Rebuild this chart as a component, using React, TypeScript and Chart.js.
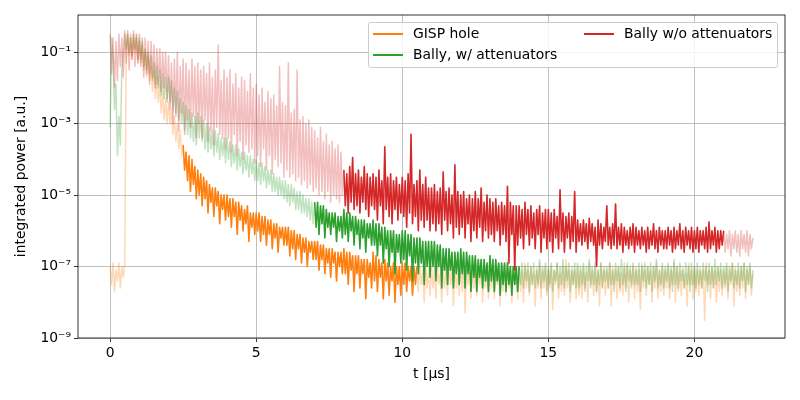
import React, { useEffect, useRef } from "react";
import Chart from "chart.js/auto";

// traces are sampled every 0.05 us from 0 to 22 us; values are log10 of the integrated power
const T_STEP = 0.05;

const gispHoleLog = [
  -7.0, -7.5, -6.9, -7.7, -7.1, -7.4, -6.9, -7.6, -7.0, -7.3, -6.95, -0.9, -0.5, -1.1, -0.6, -1.2, -0.6, -1.0, -0.5, -1.3, // 0
  -0.7, -1.3, -0.8, -1.5, -1.0, -1.7, -1.1, -1.8, -1.4, -2.1, -1.5, -2.3, -1.7, -2.4, -1.9, -2.7, -2.1, -2.9, -2.3, -3.0, // 1
  -2.4, -3.0, -2.6, -3.3, -2.8, -3.5, -3.0, -3.7, -3.2, -3.9, -3.6, -4.3, -3.8, -4.6, -3.9, -4.9, -4.0, -4.7, -4.2, -5.1, // 2
  -4.3, -5.0, -4.4, -5.3, -4.5, -5.1, -4.6, -5.5, -4.7, -5.2, -4.8, -5.6, -4.8, -5.3, -4.9, -5.8, -5.0, -5.4, -5.0, -5.7, // 3
  -5.0, -5.6, -5.1, -5.9, -5.1, -5.6, -5.2, -6.1, -5.2, -5.7, -5.3, -6.0, -5.4, -5.8, -5.3, -6.3, -5.5, -5.9, -5.5, -6.1, // 4
  -5.5, -6.0, -5.5, -6.3, -5.6, -6.1, -5.6, -6.4, -5.7, -6.1, -5.7, -6.5, -5.8, -6.2, -5.8, -6.6, -5.9, -6.2, -5.9, -6.4, // 5
  -5.9, -6.4, -5.9, -6.7, -6.0, -6.5, -6.0, -6.8, -6.1, -6.5, -6.1, -6.9, -6.2, -6.6, -6.2, -7.0, -6.3, -6.6, -6.3, -6.8, // 6
  -6.3, -6.8, -6.3, -7.1, -6.4, -6.8, -6.4, -7.2, -6.5, -6.9, -6.5, -7.3, -6.5, -6.9, -6.6, -7.4, -6.6, -7.0, -6.6, -7.2, // 7
  -6.5, -7.2, -6.6, -7.5, -6.6, -7.1, -6.7, -7.7, -6.7, -7.2, -6.7, -7.6, -6.8, -7.2, -6.8, -7.9, -6.8, -7.3, -6.9, -7.6, // 8
  -6.6, -7.4, -6.7, -7.7, -6.8, -7.3, -6.9, -7.9, -6.8, -7.4, -6.9, -7.8, -7.0, -7.4, -6.9, -8.0, -7.0, -7.5, -7.0, -7.8, // 9
  -6.9, -7.5, -6.9, -7.7, -7.0, -7.4, -7.0, -7.8, -7.0, -7.5, -7.0, -7.7, -7.0, -7.5, -7.1, -8.0, -7.0, -7.6, -7.1, -7.8, // 10
  -7.0, -7.6, -7.1, -7.9, -6.9, -7.5, -7.2, -8.0, -7.0, -7.6, -7.1, -7.8, -6.9, -7.5, -7.1, -8.1, -7.0, -7.6, -7.2, -7.8, // 11
  -7.0, -7.7, -6.9, -8.3, -7.1, -7.5, -7.0, -7.9, -7.2, -7.6, -6.8, -7.8, -7.1, -7.5, -7.0, -8.0, -7.1, -7.6, -6.9, -7.9, // 12
  -7.1, -7.6, -7.0, -7.9, -7.2, -7.5, -6.9, -8.1, -7.1, -7.7, -7.0, -7.8, -6.8, -7.6, -7.1, -8.0, -7.0, -7.5, -7.2, -7.9, // 13
  -7.0, -7.7, -7.1, -8.0, -6.9, -7.6, -7.1, -7.8, -7.0, -7.5, -7.2, -8.1, -7.0, -7.6, -6.9, -7.9, -7.1, -7.6, -7.0, -7.8, // 14
  -7.1, -7.6, -7.0, -8.2, -7.1, -7.5, -6.9, -7.9, -7.2, -7.7, -7.0, -7.8, -6.8, -7.6, -7.1, -8.0, -7.0, -7.5, -7.1, -7.9, // 15
  -7.0, -7.8, -7.1, -7.9, -7.0, -7.6, -7.2, -8.0, -6.9, -7.5, -7.1, -7.8, -7.0, -7.7, -7.1, -8.1, -6.9, -7.6, -7.1, -7.8, // 16
  -7.1, -7.6, -6.9, -8.1, -7.0, -7.5, -7.1, -7.9, -7.0, -7.7, -7.2, -7.8, -6.9, -7.6, -7.0, -8.0, -7.1, -7.5, -7.0, -7.9, // 17
  -7.0, -7.7, -7.1, -8.2, -6.9, -7.6, -7.1, -7.8, -7.0, -7.5, -7.1, -8.0, -7.0, -7.6, -6.9, -7.9, -7.1, -7.7, -7.0, -7.8, // 18
  -7.1, -7.6, -7.0, -7.9, -7.1, -7.5, -6.9, -8.0, -7.0, -7.7, -7.1, -7.8, -7.0, -7.6, -7.2, -8.1, -6.9, -7.5, -7.1, -7.9, // 19
  -7.0, -7.7, -7.1, -7.8, -7.0, -7.6, -7.1, -8.5, -6.9, -7.5, -7.1, -7.9, -7.0, -7.6, -7.1, -8.0, -7.0, -7.7, -7.1, -7.8, // 20
  -7.1, -7.6, -7.0, -7.9, -7.1, -7.5, -6.9, -8.1, -7.0, -7.7, -7.1, -7.8, -7.0, -7.6, -6.9, -7.9, -7.1, -7.5, -7.0, -7.8, // 21
  -7.2,
];

const ballyWithLog = [
  -3.1, -0.6, -1.2, -2.6, -1.9, -3.9, -2.8, -3.6, -1.5, -1.0, -0.5, -0.9, -0.5, -1.0, -0.6, -1.1, -0.5, -0.9, -0.6, -1.2, // 0
  -0.6, -1.2, -0.7, -1.4, -0.9, -1.5, -1.0, -1.6, -1.1, -1.8, -1.3, -1.9, -1.4, -2.0, -1.5, -2.2, -1.6, -2.3, -1.7, -2.4, // 1
  -1.7, -2.4, -1.8, -2.6, -2.0, -2.7, -2.1, -2.9, -2.3, -3.0, -2.4, -3.2, -2.5, -3.3, -2.6, -3.4, -2.7, -3.5, -2.8, -3.6, // 2
  -2.7, -3.4, -2.8, -3.5, -2.9, -3.7, -3.0, -3.8, -3.1, -3.7, -3.2, -3.9, -3.2, -3.8, -3.3, -4.0, -3.4, -3.9, -3.4, -4.1, // 3
  -3.4, -4.0, -3.5, -4.2, -3.6, -4.1, -3.6, -4.3, -3.7, -4.2, -3.8, -4.4, -3.8, -4.3, -3.9, -4.5, -3.9, -4.4, -4.0, -4.6, // 4
  -4.0, -4.6, -4.1, -4.7, -4.1, -4.6, -4.2, -4.8, -4.3, -4.7, -4.3, -4.9, -4.4, -4.9, -4.5, -5.0, -4.5, -5.0, -4.6, -5.1, // 5
  -4.6, -5.2, -4.7, -5.3, -4.7, -5.2, -4.8, -5.4, -4.9, -5.4, -4.9, -5.5, -5.0, -5.5, -5.1, -5.6, -5.1, -5.7, -5.2, -5.8, // 6
  -5.2, -5.9, -5.2, -6.1, -5.3, -5.8, -5.3, -6.2, -5.4, -5.9, -5.5, -6.1, -5.5, -5.9, -5.5, -6.3, -5.6, -6.0, -5.6, -6.2, // 7
  -5.4, -6.1, -5.5, -6.3, -5.5, -6.0, -5.6, -6.4, -5.6, -6.1, -5.7, -6.5, -5.7, -6.2, -5.7, -6.6, -5.8, -6.2, -5.8, -6.4, // 8
  -5.7, -6.4, -5.8, -6.7, -5.8, -6.4, -5.9, -6.9, -5.9, -6.5, -6.0, -7.0, -6.0, -6.6, -6.0, -7.2, -6.1, -6.6, -6.1, -6.9, // 9
  -6.0, -6.8, -6.0, -7.1, -6.1, -6.7, -6.1, -7.4, -6.2, -6.9, -6.2, -7.2, -6.2, -6.9, -6.3, -7.5, -6.3, -7.0, -6.3, -7.3, // 10
  -6.3, -7.0, -6.3, -7.4, -6.4, -7.0, -6.4, -7.6, -6.5, -7.1, -6.5, -7.5, -6.5, -7.1, -6.6, -7.6, -6.6, -7.2, -6.6, -7.5, // 11
  -6.5, -7.2, -6.6, -7.6, -6.6, -7.2, -6.7, -7.7, -6.7, -7.3, -6.7, -7.7, -6.8, -7.3, -6.8, -7.6, -6.8, -7.4, -6.9, -7.7, // 12
  -6.7, -7.4, -6.8, -7.7, -6.8, -7.4, -6.9, -7.8, -6.9, -7.5, -6.9, -7.7, -6.9, -7.5, -7.0, -7.8, -7.0, -7.5, -7.0, -7.7, // 13
  -7.0, -7.5, -6.9, -7.6, -7.0, -7.4, -6.9, -7.7, -7.0, -7.5, -6.9, -7.6, -7.1, -7.5, -6.8, -7.6, -7.0, -7.4, -6.9, -7.7, // 14
  -7.0, -7.5, -6.9, -7.7, -7.1, -7.4, -6.9, -7.6, -7.0, -7.5, -6.8, -7.6, -7.0, -7.4, -6.9, -7.7, -7.1, -7.5, -6.9, -7.6, // 15
  -6.9, -7.6, -7.0, -7.5, -6.9, -7.7, -7.0, -7.4, -6.8, -7.6, -7.0, -7.5, -6.9, -7.7, -7.1, -7.5, -6.9, -7.6, -7.0, -7.4, // 16
  -7.0, -7.6, -6.9, -7.5, -7.1, -7.7, -6.9, -7.4, -7.0, -7.6, -6.8, -7.5, -7.0, -7.7, -6.9, -7.4, -7.0, -7.6, -6.9, -7.5, // 17
  -7.1, -7.5, -6.9, -7.7, -7.0, -7.4, -6.9, -7.6, -7.0, -7.5, -6.9, -7.7, -7.0, -7.4, -6.8, -7.6, -7.1, -7.5, -6.9, -7.6, // 18
  -7.0, -7.4, -6.9, -7.6, -7.0, -7.7, -6.8, -7.5, -7.0, -7.6, -6.9, -7.4, -7.1, -7.6, -6.9, -7.5, -7.0, -7.7, -6.9, -7.5, // 19
  -7.0, -7.6, -6.9, -7.5, -7.1, -7.6, -6.9, -7.4, -7.0, -7.7, -6.9, -7.5, -7.0, -7.6, -6.8, -7.5, -7.0, -7.4, -6.9, -7.6, // 20
  -7.0, -7.5, -6.9, -7.7, -7.0, -7.4, -6.9, -7.6, -7.1, -7.5, -6.9, -7.6, -7.0, -7.4, -6.9, -7.7, -7.0, -7.5, -6.9, -7.6, // 21
  -7.1,
];

const ballyWithoutLog = [
  -0.5, -1.6, -0.6, -2.0, -0.7, -1.8, -0.5, -1.4, -0.6, -1.7, -0.4, -1.3, -0.4, -1.5, -0.5, -1.2, -0.4, -1.4, -0.5, -1.3, // 0
  -0.5, -1.4, -0.6, -1.7, -0.6, -1.6, -0.7, -1.9, -0.7, -1.7, -0.8, -2.0, -0.9, -1.9, -0.9, -2.1, -1.0, -2.0, -1.0, -2.3, // 1
  -1.1, -2.6, -1.3, -3.0, -1.2, -2.8, -1.0, -3.2, -1.4, -2.7, -1.2, -3.3, -1.3, -2.9, -1.5, -3.1, -1.2, -2.8, -1.4, -3.4, // 2
  -1.3, -3.0, -1.5, -3.4, -1.4, -2.9, -1.6, -3.5, -1.3, -3.2, -1.7, -3.6, -1.5, -3.1, -0.8, -3.3, -1.8, -3.4, -1.5, -3.7, // 3
  -1.7, -3.4, -1.5, -3.8, -1.9, -3.3, -1.6, -3.9, -2.0, -3.5, -1.7, -4.0, -1.8, -3.6, -2.1, -3.8, -1.6, -3.7, -2.0, -4.1, // 4
  -1.9, -3.9, -2.2, -4.2, -2.0, -3.7, -2.4, -4.3, -2.1, -3.9, -2.3, -4.4, -2.2, -4.0, -2.5, -4.2, -1.4, -4.1, -2.4, -4.5, // 5
  -2.5, -4.3, -1.3, -4.5, -2.7, -4.4, -2.6, -4.6, -1.5, -4.5, -2.9, -4.7, -2.8, -4.6, -3.0, -4.8, -2.9, -4.7, -3.1, -4.9, // 6
  -3.2, -4.8, -3.4, -5.0, -3.1, -4.9, -3.5, -5.1, -3.3, -4.9, -3.6, -5.2, -3.5, -5.0, -3.7, -5.1, -3.6, -5.2, -3.8, -5.0, // 7
  -4.3, -5.3, -4.4, -5.5, -4.2, -5.2, -3.95, -5.4, -4.4, -5.3, -4.3, -5.5, -4.5, -5.2, -4.2, -5.4, -4.4, -5.6, -4.5, -5.3, // 8
  -4.4, -5.4, -4.5, -5.7, -4.3, -5.3, -4.6, -5.8, -3.65, -5.4, -4.5, -5.6, -4.4, -5.8, -4.6, -5.4, -4.5, -5.7, -4.7, -5.5, // 9
  -4.5, -5.6, -4.6, -5.9, -4.4, -5.5, -3.3, -5.8, -4.7, -5.6, -4.6, -6.0, -4.3, -5.7, -4.7, -5.9, -4.5, -5.7, -4.8, -6.0, // 10
  -4.8, -5.8, -4.7, -6.0, -4.9, -5.8, -4.8, -6.1, -4.35, -5.7, -4.9, -6.0, -4.8, -5.8, -5.0, -6.2, -4.15, -5.9, -4.9, -6.1, // 11
  -5.0, -5.9, -4.9, -6.2, -5.1, -5.8, -5.0, -6.3, -5.1, -6.0, -4.9, -6.2, -5.1, -5.9, -4.8, -6.3, -5.2, -6.0, -5.0, -6.2, // 12
  -5.1, -6.1, -5.2, -6.3, -5.1, -6.0, -5.3, -6.4, -5.2, -6.1, -5.3, -6.3, -4.75, -6.9, -5.2, -6.1, -5.3, -7.1, -5.3, -6.4, // 13
  -5.3, -6.2, -5.4, -6.5, -5.2, -6.1, -5.4, -6.4, -5.3, -6.2, -5.5, -6.5, -5.4, -6.1, -5.3, -6.6, -5.5, -6.2, -5.4, -6.5, // 14
  -5.4, -6.3, -5.5, -6.6, -5.4, -6.2, -5.6, -6.5, -4.85, -6.3, -5.5, -6.6, -5.6, -6.2, -5.5, -6.5, -5.6, -6.3, -4.9, -6.6, // 15
  -5.7, -6.3, -5.8, -6.4, -5.7, -6.3, -5.8, -6.5, -5.65, -6.3, -5.8, -6.4, -5.9, -7.0, -5.7, -6.4, -5.8, -6.5, -5.9, -6.3, // 16
  -5.3, -6.4, -5.9, -6.5, -5.8, -6.4, -5.25, -6.5, -5.9, -6.4, -5.8, -6.6, -5.9, -6.4, -6.0, -6.5, -5.9, -6.4, -5.8, -6.6, // 17
  -5.9, -6.4, -6.0, -6.5, -5.9, -6.4, -6.0, -6.6, -5.9, -6.5, -6.0, -6.4, -5.8, -6.5, -6.0, -6.6, -5.9, -6.4, -6.0, -6.5, // 18
  -6.0, -6.5, -5.9, -6.4, -6.0, -6.6, -5.9, -6.5, -6.0, -6.4, -5.8, -6.5, -6.0, -6.6, -5.9, -6.4, -6.0, -6.5, -5.9, -6.6, // 19
  -6.0, -6.5, -5.9, -6.6, -6.0, -6.4, -6.0, -6.5, -5.9, -6.6, -5.75, -6.5, -6.0, -6.4, -5.9, -6.6, -6.0, -6.5, -6.0, -6.4, // 20
  -6.0, -6.6, -6.1, -6.5, -6.0, -6.7, -6.1, -6.5, -6.0, -6.6, -6.1, -6.7, -6.0, -6.5, -6.1, -6.6, -6.0, -6.7, -6.1, -6.5, // 21
  -6.2,
];

// time windows in which each measurement is considered valid (drawn solid)
const gispWindow = [2.5, 10.5];
const ballyWithWindow = [7.0, 14.0];
const ballyWithoutWindow = [8.0, 21.0];

const xTicks = [0, 5, 10, 15, 20];
const yTicks = [1e-9, 1e-7, 1e-5, 1e-3, 1e-1];

const FONT = "DejaVu Sans";
const FONT_SIZE = 13.9;

const SUP: Record<string, string> = {
  "-": "\u207b", "0": "\u2070", "1": "\u00b9", "2": "\u00b2", "3": "\u00b3",
  "4": "\u2074", "5": "\u2075", "6": "\u2076", "7": "\u2077", "8": "\u2078", "9": "\u2079",
};

const powerLabel = (v: number) => {
  const exp = String(Math.round(Math.log10(v)));
  return "10" + exp.split("").map((c) => SUP[c]).join("");
};

const toPoints = (logs: number[], from = -Infinity, to = Infinity) =>
  logs
    .map((v, i) => ({ x: Math.round(i * T_STEP * 100) / 100, y: Math.pow(10, v) }))
    .filter((p) => p.x >= from - 1e-9 && p.x <= to + 1e-9);

const framePlugin = {
  id: "frame",
  afterDatasetsDraw(chart: Chart) {
    const { ctx, chartArea: a } = chart;
    ctx.save();
    ctx.strokeStyle = "#000";
    ctx.lineWidth = 0.8;
    ctx.strokeRect(a.left, a.top, a.right - a.left, a.bottom - a.top);
    ctx.restore();
  },
};

const legendItems = [
  { label: "GISP hole", color: "#ff7f0e", left: 373, top: 34 },
  { label: "Bally, w/ attenuators", color: "#2ca02c", left: 373, top: 55 },
  { label: "Bally w/o attenuators", color: "#d62728", left: 584, top: 34 },
];

const App: React.FC = () => {
  const canvasRef = useRef<HTMLCanvasElement | null>(null);
  const chartRef = useRef<Chart | null>(null);

  useEffect(() => {
    if (!canvasRef.current) return;
    if (chartRef.current) chartRef.current.destroy();

    const trace = (label: string, data: { x: number; y: number }[], color: string, order: number) => ({
      label,
      data,
      borderColor: color,
      borderWidth: 1.5,
      borderJoinStyle: "round" as const,
      pointRadius: 0,
      tension: 0,
      fill: false,
      order,
    });

    chartRef.current = new Chart(canvasRef.current, {
      type: "line",
      data: {
        datasets: [
          trace("GISP hole (all)", toPoints(gispHoleLog), "rgba(255, 127, 14, 0.3)", 5),
          trace("GISP hole", toPoints(gispHoleLog, gispWindow[0], gispWindow[1]), "#ff7f0e", 4),
          trace("Bally, w/ attenuators (all)", toPoints(ballyWithLog), "rgba(44, 160, 44, 0.3)", 3),
          trace("Bally, w/ attenuators", toPoints(ballyWithLog, ballyWithWindow[0], ballyWithWindow[1]), "#2ca02c", 2),
          trace("Bally w/o attenuators (all)", toPoints(ballyWithoutLog), "rgba(214, 39, 40, 0.3)", 1),
          trace("Bally w/o attenuators", toPoints(ballyWithoutLog, ballyWithoutWindow[0], ballyWithoutWindow[1]), "#d62728", 0),
        ],
      },
      options: {
        responsive: false,
        animation: false,
        events: [],
        layout: { padding: { top: 15, right: 15, left: 0, bottom: 0 } },
        plugins: {
          legend: { display: false },
          tooltip: { enabled: false },
        },
        scales: {
          x: {
            type: "linear",
            min: -1.1,
            max: 23.1,
            afterFit: (scale: any) => {
              scale.height = 62;
            },
            afterBuildTicks: (scale: any) => {
              scale.ticks = xTicks.map((value) => ({ value }));
            },
            ticks: {
              color: "#000",
              padding: 3,
              maxRotation: 0,
              font: { family: FONT, size: FONT_SIZE },
              callback: (v: any) => String(v),
            },
            grid: {
              color: "#b0b0b0",
              lineWidth: 0.8,
              tickColor: "#000",
              tickLength: 4,
              tickWidth: 0.8,
            },
            border: { display: false },
            title: {
              display: true,
              text: "t [\u03bcs]",
              color: "#000",
              font: { family: FONT, size: FONT_SIZE },
              padding: { top: 4, bottom: 17 },
            },
          },
          y: {
            type: "logarithmic",
            min: 1e-9,
            max: 1.1,
            afterFit: (scale: any) => {
              scale.width = 78;
            },
            afterBuildTicks: (scale: any) => {
              scale.ticks = yTicks.map((value) => ({ value }));
            },
            ticks: {
              color: "#000",
              padding: 3,
              font: { family: FONT, size: FONT_SIZE },
              callback: (v: any) => powerLabel(Number(v)),
            },
            grid: {
              color: "#b0b0b0",
              lineWidth: 0.8,
              tickColor: "#000",
              tickLength: 4,
              tickWidth: 0.8,
            },
            border: { display: false },
            title: {
              display: true,
              text: "integrated power [a.u.]",
              color: "#000",
              font: { family: FONT, size: FONT_SIZE },
              padding: { top: 13, bottom: 4 },
            },
          },
        },
      },
      plugins: [framePlugin],
    });

    return () => {
      if (chartRef.current) {
        chartRef.current.destroy();
        chartRef.current = null;
      }
    };
  }, []);

  return (
    <div style={{ position: "absolute", left: 0, top: 0, width: 800, height: 400, background: "#fff" }}>
      <canvas ref={canvasRef} width={800} height={400} />
      <div
        style={{
          position: "absolute",
          left: 368,
          top: 22,
          width: 410,
          height: 46,
          boxSizing: "border-box",
          background: "rgba(255, 255, 255, 0.8)",
          border: "1px solid #cccccc",
          borderRadius: 3,
        }}
      />
      {legendItems.map((item) => (
        <React.Fragment key={item.label}>
          <div
            style={{
              position: "absolute",
              left: item.left,
              top: item.top - 1,
              width: 30,
              height: 2,
              background: item.color,
            }}
          />
          <div
            style={{
              position: "absolute",
              left: item.left + 40,
              top: item.top - 9,
              fontFamily: FONT,
              fontSize: FONT_SIZE,
              lineHeight: "17px",
              color: "#000",
              whiteSpace: "nowrap",
            }}
          >
            {item.label}
          </div>
        </React.Fragment>
      ))}
    </div>
  );
};

export default App;
